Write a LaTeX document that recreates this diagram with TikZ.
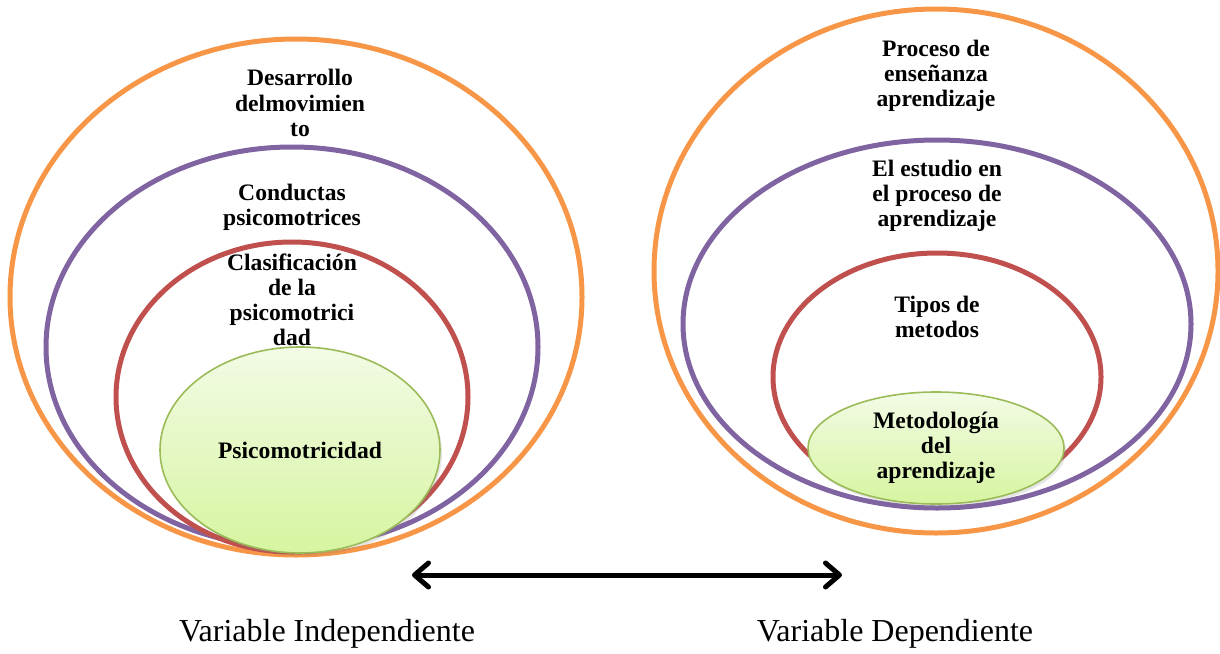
\documentclass[tikz,border=0pt]{standalone}
\usepackage{fontspec}
\setmainfont{Liberation Serif}
\usepackage{tikz}
\usetikzlibrary{shapes.geometric,positioning,arrows.meta,shadows}
\definecolor{ringorange}{HTML}{F79646}
\definecolor{ringpurple}{HTML}{8064A2}
\definecolor{ringred}{HTML}{C0504D}
\definecolor{coreline}{HTML}{9BBB59}
\definecolor{coretop}{HTML}{F3FBE6}
\definecolor{corebottom}{HTML}{D6F5A0}
\newcommand{\lblfont}{\bfseries\fontsize{11.8}{12.6}\selectfont}

\begin{document}
\begin{tikzpicture}[x=0.5pt,y=-0.5pt,
        ring/.style={ellipse,draw,line width=2.5pt,inner sep=0pt},
        core node/.style={ellipse,draw=coreline,line width=0.8pt,inner sep=0pt,
            top color=coretop,bottom color=corebottom,align=center,font=\lblfont,
            drop shadow={opacity=0.2,shadow xshift=1pt,shadow yshift=-1.5pt}},
        label node/.style={align=center,font=\lblfont},
        var node/.style={font=\fontsize{16}{19}\selectfont}]

    \useasboundingbox (0,0) rectangle (1220,653);

    % independent variable
    \node[ring,draw=ringorange,minimum width=286pt,minimum height=258pt] (o1) at (296,297) {};
    \node[ring,draw=ringpurple,minimum width=246pt,minimum height=200pt] (p1) at (292,347) {};
    \node[ring,draw=ringred,minimum width=176pt,minimum height=155pt] (r1) at (292,397) {};
    \node[core node,minimum width=140pt,minimum height=103pt] (g1) at (300,450) {Psicomotricidad};

    \node[label node] (t1) at (300,103) {Desarrollo\\delmovimien\\to};
    \node[label node] (t2) at (292,207) {Conductas\\psicomotrices};
    \node[label node] (t3) at (292,300) {Clasificación\\de la\\psicomotrici\\dad};

    % dependent variable
    \node[ring,draw=ringorange,minimum width=282pt,minimum height=262pt] (o2) at (936,271) {};
    \node[ring,draw=ringpurple,minimum width=254pt,minimum height=184pt] (p2) at (937,324) {};
    \node[ring,draw=ringred,minimum width=164pt,minimum height=124pt] (r2) at (937,377) {};
    \node[core node,minimum width=128pt,minimum height=56pt] (g2) at (936,448) {Metodología\\del\\aprendizaje};

    \node[label node] (t4) at (936,76) {Proceso de\\enseñanza\\aprendizaje};
    \node[label node] (t5) at (937,196) {El estudio en\\el proceso de\\aprendizaje};
    \node[label node] (t6) at (937,317) {Tipos de\\metodos};

    % relation
    \coordinate (a1) at (412,575);
    \coordinate (a2) at (842,575);
    \draw[{Straight Barb[length=7pt,width=12pt,round]}-{Straight Barb[length=7pt,width=12pt,round]},line width=2.5pt] (a1) -- (a2);

    \node[var node] (v1) at (327,634) {Variable Independiente};
    \node[var node] (v2) at (895,634) {Variable Dependiente};

\end{tikzpicture}
\end{document}
